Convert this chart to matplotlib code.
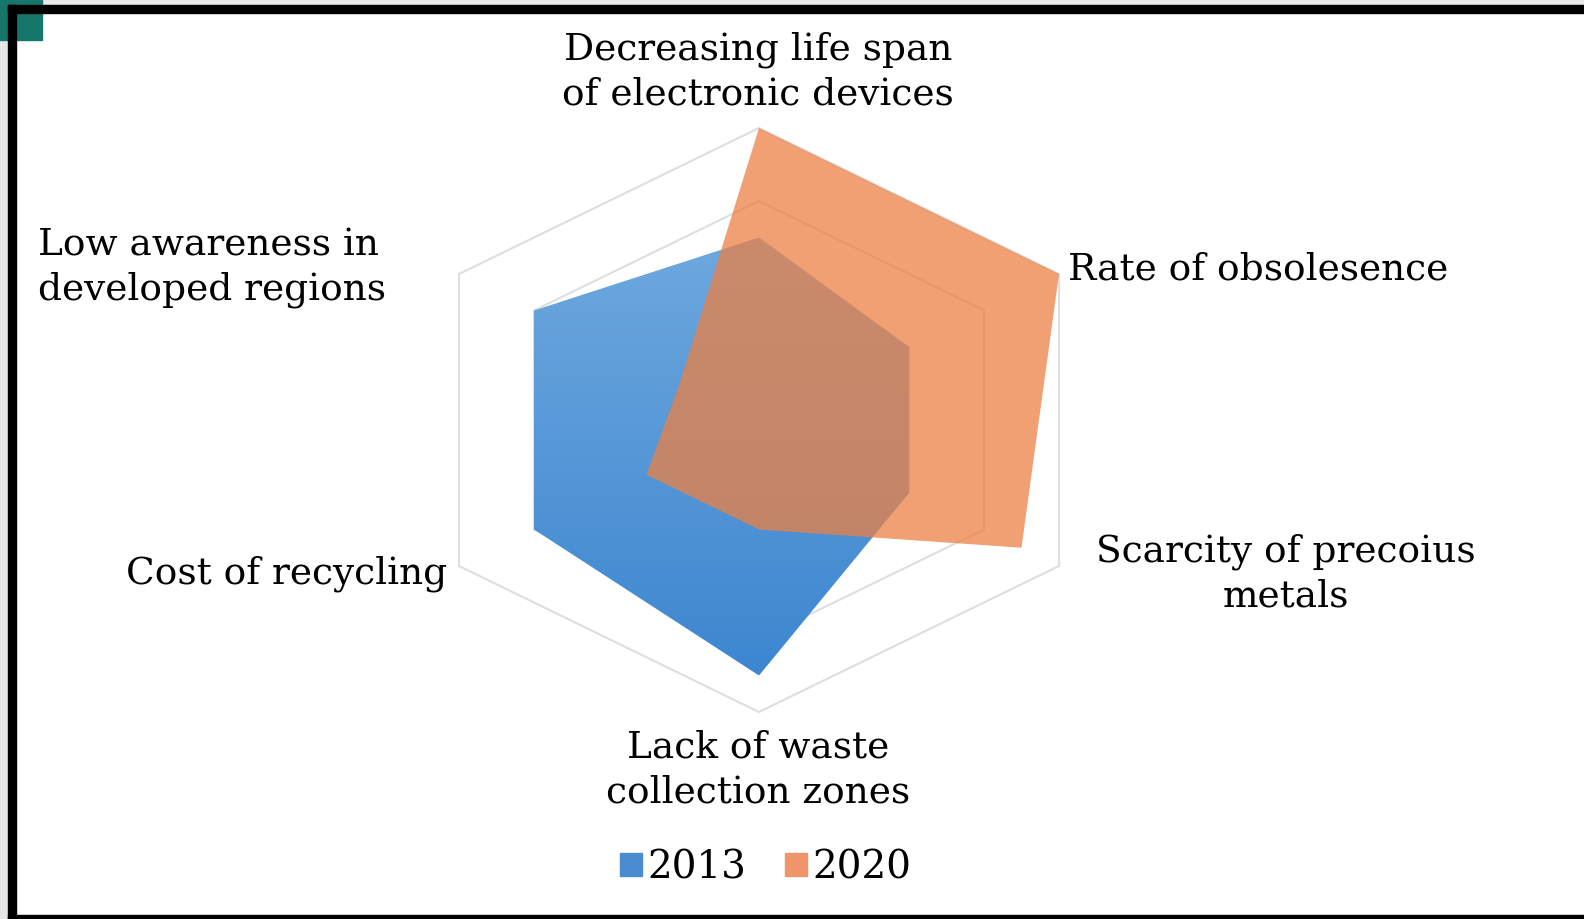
import numpy as np
import matplotlib.pyplot as plt
from matplotlib.patches import Polygon, Rectangle, Patch
from matplotlib.colors import LinearSegmentedColormap

categories = ['Decreasing life span\nof electronic devices', 'Rate of obsolesence',
              'Scarcity of precoius\nmetals', 'Lack of waste\ncollection zones',
              'Cost of recycling', 'Low awareness in\ndeveloped regions']
years = ['2013', '2020']
vals_2013 = [2.5, 2.0, 2.0, 3.5, 3.0, 3.0]
vals_2020 = [4.0, 4.0, 3.5, 1.5, 1.5, 1.05]
rings = [1, 2, 3, 4]

W, H = 1584, 919
cx, cy = 759, 420      # centre of the web in pixels
sy = 73.0              # px per unit vertically
sx = 86.6              # px per unit horizontally (picture is stretched)

plt.rcParams['font.family'] = ['DejaVu Serif']
fig = plt.figure(figsize=(W / 100, H / 100), dpi=100)

# background / frame, pixel coords
bg = fig.add_axes([0, 0, 1, 1])
bg.set_xlim(0, W)
bg.set_ylim(H, 0)
bg.axis('off')
bg.add_patch(Rectangle((0, 0), W, H, color='white'))
bg.add_patch(Rectangle((0, 0), W, 5, color='#e8e8e8'))
bg.add_patch(Rectangle((0, 0), 8, H, color='#e6e6e6'))
bg.add_patch(Rectangle((0, 0), 42, 40, color='#16766c'))
bg.add_patch(Rectangle((8, 5), W - 8, 8, color='black'))
bg.add_patch(Rectangle((8, 5), 8, H - 5, color='black'))
bg.add_patch(Rectangle((8, 915), W - 8, 4, color='black'))

ax = fig.add_axes([0, 0, 1, 1], zorder=2)
ax.patch.set_alpha(0)

n = len(categories)
theta = np.arange(n) * 2 * np.pi / n


def xy(vals):
    v = np.asarray(vals, dtype=float)
    return np.column_stack([v * np.sin(theta), v * np.cos(theta)])


# grid rings
for r in rings:
    ax.add_patch(Polygon(xy([r] * n), closed=True, fill=False, ec='#dedede', lw=1.5, zorder=1))

# 2013 - blue with a vertical gradient
blue_poly = Polygon(xy(vals_2013), closed=True, fc='none', ec='none', zorder=2)
ax.add_patch(blue_poly)
cmap = LinearSegmentedColormap.from_list('b', ['#3d86d0', '#6ea8de'])
top = xy(vals_2013)[:, 1].max()
bot = xy(vals_2013)[:, 1].min()
grad = np.linspace(0, 1, 256).reshape(-1, 1)
im = ax.imshow(grad, extent=[-5, 5, bot, top], origin='lower', cmap=cmap,
               aspect='auto', zorder=2)
im.set_clip_path(blue_poly)

# 2020 - orange, semi transparent
ax.add_patch(Polygon(xy(vals_2020), closed=True, fc=(235 / 255, 128 / 255, 68 / 255),
                     alpha=0.75, ec='none', zorder=3))

ax.set_xlim(-cx / sx, (W - cx) / sx)
ax.set_ylim(-(H - cy) / sy, cy / sy)
ax.axis('off')

fs = 27
ls = 1.3
bg.text(758, 72, categories[0], ha='center', va='center', fontsize=fs, linespacing=ls)
bg.text(1068, 270, categories[1], ha='left', va='center', fontsize=fs)
bg.text(1286, 574, categories[2], ha='center', va='center', fontsize=fs, linespacing=ls)
bg.text(758, 770, categories[3], ha='center', va='center', fontsize=fs, linespacing=ls)
bg.text(447, 574, categories[4], ha='right', va='center', fontsize=fs)
bg.text(38, 268, categories[5], ha='left', va='center', fontsize=fs, linespacing=ls,
        multialignment='left')

handles = [Patch(color='#4a8cd0'), Patch(color='#f0946a')]
ax.legend(handles, years, loc='center', bbox_to_anchor=(766 / W, 1 - 868 / H),
          bbox_transform=fig.transFigure, ncol=2, frameon=False, fontsize=fs + 1,
          handlelength=0.55, handleheight=0.55, handletextpad=0.15, columnspacing=1.0)

fig.savefig('out.png', dpi=100)
